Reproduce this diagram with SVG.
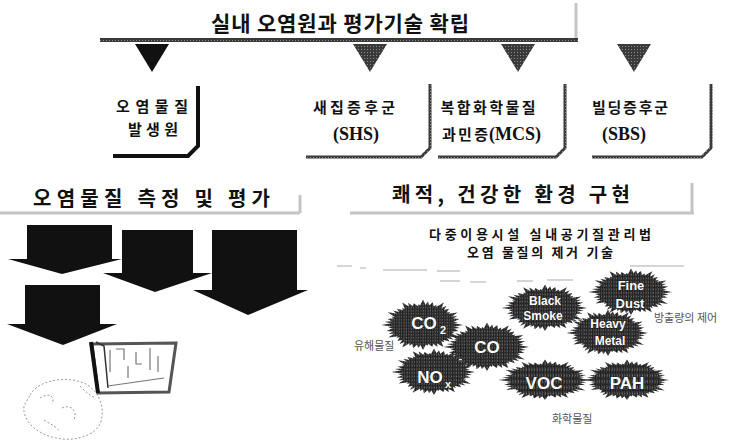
<svg xmlns="http://www.w3.org/2000/svg" width="735" height="442" viewBox="0 0 735 442">
  <style>
    .kr { font-family: "Noto Sans CJK KR", "Noto Sans", sans-serif; font-weight: 700; fill: #111; }
    .head { font-size: 20px; }
    .box { font-size: 15px; }
    .sub { font-size: 13px; }
    .note { font-family: "Noto Sans CJK KR", sans-serif; font-size: 11px; fill: #555; }
    .abbr { font-family: "Liberation Serif", "Times New Roman", serif; font-weight: 700; font-size: 18px; fill: #111; }
    .bt { font-family: "Liberation Sans", Arial, sans-serif; font-weight: 700; fill: #fff; stroke: #111; stroke-width: 0.6; paint-order: stroke; }
    .frame-dark { fill: none; stroke: #111; stroke-width: 4; }
    .frame-grey { fill: none; stroke: url(#grain); stroke-width: 3; }
    .rule { stroke: url(#grain); stroke-width: 4; }
    .faint { stroke: #c4c4c4; stroke-width: 3; }
    .block { fill: #111; }
    .tri { fill: url(#grain); }
    .burst { fill: url(#halftone); }
    .sketch { fill: none; stroke: #9a9a9a; stroke-width: 1; stroke-dasharray: 2 2; }
  </style>
  <defs>
    <pattern id="grain" width="3" height="3" patternUnits="userSpaceOnUse">
      <rect width="3" height="3" fill="#3a3a3a"/>
      <rect x="1" y="1" width="1" height="1" fill="#8a8a8a"/>
    </pattern>
    <pattern id="halftone" width="3" height="3" patternUnits="userSpaceOnUse">
      <rect width="3" height="3" fill="#1e1e1e"/>
      <rect x="0" y="0" width="1" height="1" fill="#9a9a9a"/>
      <rect x="2" y="1" width="1" height="1" fill="#6a6a6a"/>
    </pattern>
    <!-- spiky ring, radius about 50 -->
    <path id="spikes" class="burst" d="M50,0 L35.7,4.7 L44.4,11.9 L33.3,13.8 L45,26 L28.6,21.9 L33.2,33.2 L21.9,28.6 L25.5,44.2 L13.8,33.3 L11.6,43.5 L4.7,35.7 L0,50 L-4.7,35.7 L-12.4,46.4 L-13.8,33.3 L-26,45 L-21.9,28.6 L-31.8,31.8 L-28.6,21.9 L-43.3,25 L-33.3,13.8 L-45.4,12.2 L-35.7,4.7 L-52,0 L-35.7,-4.7 L-44.4,-11.9 L-33.3,-13.8 L-44.2,-25.5 L-28.6,-21.9 L-32.5,-32.5 L-21.9,-28.6 L-26,-45 L-13.8,-33.3 L-11.6,-43.5 L-4.7,-35.7 L0,-51 L4.7,-35.7 L12.2,-45.4 L13.8,-33.3 L26,-45 L21.9,-28.6 L32.5,-32.5 L28.6,-21.9 L43.3,-25 L33.3,-13.8 L45.4,-12.2 L35.7,-4.7 Z"/>
    <!-- starburst: two offset spike rings for a denser edge -->
    <g id="burst">
      <use href="#spikes" transform="rotate(7.5) scale(0.93)"/>
      <use href="#spikes"/>
    </g>
  </defs>

  <rect width="735" height="442" fill="#fff"/>

  <!-- top heading -->
  <g id="title-main">
    <text class="kr" font-size="21" x="340" y="31" text-anchor="middle" textLength="258" lengthAdjust="spacing">실내 오염원과 평가기술 확립</text>
    <line class="faint" x1="576" y1="3" x2="576" y2="40"/>
  </g>

  <!-- connectors: main rule and the four pointers -->
  <g id="connectors">
    <line class="rule" x1="100" y1="40" x2="578" y2="40"/>
    <polygon class="block" points="135,44 169,44 152,72"/>
    <polygon class="tri" points="353,44 387,44 370,72"/>
    <polygon class="tri" points="501,44 535,44 518,72"/>
    <polygon class="tri" points="617,44 651,44 634,72"/>
  </g>

  <g id="node-source">
    <path class="frame-dark" d="M198,86 V146 L188,156 H113"/>
    <text class="kr box" x="152" y="112" text-anchor="middle" textLength="72" lengthAdjust="spacing">오염물질</text>
    <text class="kr box" x="153" y="135" text-anchor="middle" textLength="50" lengthAdjust="spacing">발생원</text>
  </g>

  <g id="node-shs">
    <path class="frame-grey" d="M430,84 V148 L421,157 H306"/>
    <text class="kr box" x="354" y="113" text-anchor="middle" textLength="82" lengthAdjust="spacing">새집증후군</text>
    <text class="abbr" x="356" y="140" text-anchor="middle">(SHS)</text>
  </g>

  <g id="node-mcs">
    <path class="frame-grey" d="M565,84 V148 L556,157 H438"/>
    <text class="kr box" x="488" y="113" text-anchor="middle" textLength="95" lengthAdjust="spacing">복합화학물질</text>
    <text class="kr box" x="465" y="140" text-anchor="middle" textLength="46" lengthAdjust="spacing">과민증</text>
    <text class="abbr" x="489" y="140">(MCS)</text>
  </g>

  <g id="node-sbs">
    <path class="frame-grey" d="M711,84 V148 L702,157 H592"/>
    <text class="kr box" x="630" y="113" text-anchor="middle" textLength="76" lengthAdjust="spacing">빌딩증후군</text>
    <text class="abbr" x="624" y="140" text-anchor="middle">(SBS)</text>
  </g>

  <!-- left section: measurement and evaluation -->
  <g id="title-measure">
    <text class="kr head" x="33" y="206" textLength="237" lengthAdjust="spacing">오염물질 측정 및 평가</text>
    <line class="faint" x1="0" y1="213" x2="300" y2="213"/>
    <line class="faint" x1="300" y1="195" x2="300" y2="213"/>
  </g>

  <g id="arrows">
    <polygon class="block" points="27,225 112,225 112,259 122,259 62,274 8,259 27,259"/>
    <polygon class="block" points="122,230 193,230 193,273 212,273 155,292 103,273 122,273"/>
    <polygon class="block" points="212,230 297,230 297,290 308,290 248,315 193,290 212,290"/>
    <polygon class="block" points="25,285 100,285 100,324 117,324 63,345 7,324 25,324"/>
  </g>

  <g id="folder">
    <polygon points="92,344 176,343 169,392 98,393" fill="#fff" stroke="#555" stroke-width="3"/>
    <line x1="91" y1="342" x2="98" y2="393" stroke="#111" stroke-width="4"/>
    <polyline points="96,342 104,346 108,388" fill="none" stroke="#333" stroke-width="1.5"/>
    <path d="M110,350 V372 M116,349 H124 V360 M128,366 V378 M136,352 V364 H142 M150,348 V370 M158,356 V372 M108,386 L164,378" fill="none" stroke="#777" stroke-width="1.2"/>
  </g>

  <g id="globe-sketch">
    <path class="sketch" d="M30,395 C40,378 70,376 86,384 C100,392 106,410 100,424 C94,436 74,442 56,438 C36,434 22,420 24,406 Z"/>
    <path class="sketch" d="M40,398 C48,392 56,396 52,404 M62,408 C70,404 78,410 74,420 M80,386 C86,392 90,396 96,398 M44,420 C50,424 56,426 60,432"/>
  </g>

  <!-- right section: comfortable, healthy environment -->
  <g id="title-comfort">
    <text class="kr head" x="392" y="202" textLength="238" lengthAdjust="spacing">쾌적, 건강한 환경 구현</text>
    <line class="faint" x1="350" y1="213" x2="694" y2="213"/>
    <line class="faint" x1="692" y1="183" x2="692" y2="213"/>
  </g>

  <g id="policy">
    <text class="kr sub" x="540" y="239" text-anchor="middle" textLength="222" lengthAdjust="spacing">다중이용시설 실내공기질관리법</text>
    <text class="kr sub" x="540" y="257" text-anchor="middle" textLength="146" lengthAdjust="spacing">오염 물질의 제거 기술</text>
    <path d="M337,266 H352 M360,268 H366 M383,270 H427 M437,271 H460 M630,266 H684" stroke="#c8c8c8" stroke-width="1.5" fill="none"/>
    <path d="M440,281 H460 M470,282 H486 M517,281 H533 M547,280 H573" stroke="#c8c8c8" stroke-width="1.5" fill="none"/>
  </g>

  <g id="burst-co2">
    <use href="#burst" transform="translate(423,325) scale(0.8,0.5)"/>
    <text class="bt" x="424" y="329" font-size="17" text-anchor="middle">CO</text>
    <text class="bt" x="440" y="334" font-size="11">2</text>
  </g>
  <g id="burst-nox">
    <use href="#burst" transform="translate(434,372) scale(0.82,0.46)"/>
    <text class="bt" x="430" y="383" font-size="17" text-anchor="middle">NO</text>
    <text class="bt" x="445" y="388" font-size="11">x</text>
  </g>
  <g id="burst-co">
    <use href="#burst" transform="translate(487,347) scale(0.84,0.48)"/>
    <text class="bt" x="487" y="353" font-size="17" text-anchor="middle">CO</text>
  </g>
  <g id="burst-smoke">
    <use href="#burst" transform="translate(545,308) scale(0.84,0.46)"/>
    <text class="bt" x="545" y="305" font-size="12" text-anchor="middle">Black</text>
    <text class="bt" x="543" y="320" font-size="12" text-anchor="middle">Smoke</text>
  </g>
  <g id="burst-dust">
    <use href="#burst" transform="translate(631,292) scale(0.82,0.46)"/>
    <text class="bt" x="631" y="290" font-size="13" text-anchor="middle">Fine</text>
    <text class="bt" x="630" y="308" font-size="13" text-anchor="middle">Dust</text>
  </g>
  <g id="burst-metal">
    <use href="#burst" transform="translate(608,333) scale(0.8,0.46)"/>
    <text class="bt" x="608" y="328" font-size="12" text-anchor="middle">Heavy</text>
    <text class="bt" x="610" y="345" font-size="12" text-anchor="middle">Metal</text>
  </g>
  <g id="burst-voc">
    <use href="#burst" transform="translate(545,380) scale(0.9,0.4)"/>
    <text class="bt" x="544" y="389" font-size="17" text-anchor="middle">VOC</text>
  </g>
  <g id="burst-pah">
    <use href="#burst" transform="translate(627,380) scale(0.84,0.4)"/>
    <text class="bt" x="627" y="389" font-size="17" text-anchor="middle">PAH</text>
  </g>

  <g id="labels">
    <text class="note" x="354" y="350">유해물질</text>
    <text class="note" x="654" y="322" font-size="12">방출량의 제어</text>
    <text class="note" x="552" y="423" font-size="12">화학물질</text>
  </g>
</svg>
